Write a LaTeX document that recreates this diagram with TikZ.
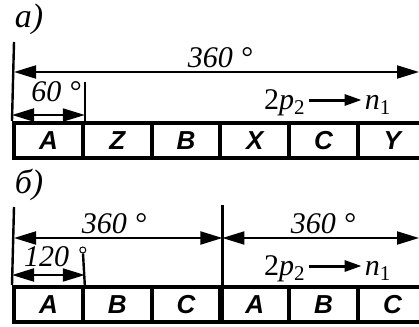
\documentclass[tikz,border=0pt]{standalone}
\usepackage{fontspec}
\setmainfont{Liberation Serif}
\setsansfont{Liberation Sans}
\usetikzlibrary{arrows.meta, positioning, calc}
\tikzset{
    cell/.style={
        rectangle, draw, line width=4pt,
        minimum width=68.8pt, minimum height=35pt, inner sep=0pt,
        font=\fontsize{26}{28}\selectfont\sffamily\bfseries\itshape
    },
    dimline/.style={line width=2pt, {Triangle[length=22pt,width=13pt]}-{Triangle[length=22pt,width=13pt]}},
    dimtext/.style={inner sep=0pt, anchor=base, font=\fontsize{30}{32}\selectfont\itshape},
    rotor/.style={inner sep=0pt, font=\fontsize{30}{32}\selectfont},
    guide/.style={line width=2.4pt},
    partlabel/.style={inner sep=0pt, font=\fontsize{34}{36}\selectfont\itshape},
    arrow/.style={line width=3pt, -{Triangle[length=17pt,width=11pt]}}
}
\begin{document}
\begin{tikzpicture}[x=1pt, y=-1pt]
    \useasboundingbox (0,0) rectangle (419,326);
    \clip (0,0) rectangle (419,326);

    % part a
    \node[partlabel] (la) at (29,19) {а)};
    \foreach \l [count=\i] in {A,Z,B,X,C,Y}
        \node[cell] (a\i) at ({48.4+68.8*(\i-1)},140.5) {\l};

    \coordinate (aTop) at (14,42);
    \coordinate (aTick) at (82.8,82);
    \coordinate (aDim) at (0,72);
    \coordinate (aDimS) at (0,115);
    \coordinate (aR) at (419,72);
    \draw[guide] (aTop) -- (a1.north west);
    \draw[guide] (a1.north east |- aTick) -- (a1.north east);
    \draw[dimline] (aTop |- aDim) -- (aR);
    \draw[dimline] (a1.north west |- aDimS) -- (a1.north east |- aDimS);
    \node[dimtext] (a360) at (220,68) {360 °};
    \node[dimtext] (a60) at (56,101) {60 °};

    \node[rotor, anchor=base west] (ap) at (264,109) {2\textit{p}\textsubscript{2}};
    \node[rotor, anchor=base east] (an) at (391,109) {\textit{n}\textsubscript{1}};
    \draw[arrow] ($(ap.base east)+(4,-9)$) -- ($(an.base west)+(-3,-9)$);

    % part b
    \node[partlabel] (lb) at (29,185) {б)};
    \foreach \l [count=\i] in {A,B,C,A,B,C}
        \node[cell] (b\i) at ({48.4+68.8*(\i-1)},304.5) {\l};

    \coordinate (bTop) at (14,207);
    \coordinate (bMid) at (0,205);
    \coordinate (bDim) at (0,238);
    \coordinate (bDimS) at (0,275);
    \coordinate (bR) at (419,238);
    \draw[guide] (bTop) -- (b1.north west);
    \draw[guide] (b3.north east |- bMid) -- (b3.south east);
    \draw[dimline] (bTop |- bDim) -- (b3.north east |- bDim);
    \draw[dimline] (b3.north east |- bDim) -- (bR);
    \node[dimtext] (b360l) at (114,233) {360 °};
    \node[dimtext] (b360r) at (323,233) {360 °};

    \node[circle, draw, line width=1pt, minimum size=6pt, inner sep=0pt] (bDeg) at (82.8,250) {};
    \draw[guide] (bDeg) -- (b1.north east);
    \draw[dimline] (b1.north west |- bDimS) -- (b1.north east |- bDimS);
    \node[dimtext, anchor=base west] (b120) at (24,266) {120};

    \node[rotor, anchor=base west] (bp) at (264,275) {2\textit{p}\textsubscript{2}};
    \node[rotor, anchor=base east] (bn) at (391,275) {\textit{n}\textsubscript{1}};
    \draw[arrow] ($(bp.base east)+(4,-9)$) -- ($(bn.base west)+(-3,-9)$);
\end{tikzpicture}
\end{document}
